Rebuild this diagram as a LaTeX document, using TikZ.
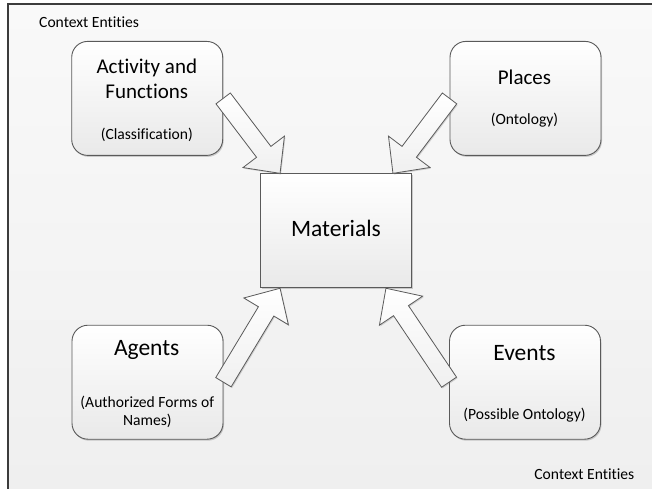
\documentclass[tikz,border=0pt]{standalone}
\usepackage{fontspec}
\setmainfont[Ligatures=NoCommon]{Carlito}
\usetikzlibrary{calc,shadows}

\definecolor{edgegray}{HTML}{5A5A5A}
\definecolor{framegray}{HTML}{3C3C3C}
\definecolor{boxtop}{HTML}{FFFFFF}
\definecolor{boxbot}{HTML}{E9E9E9}
\definecolor{bgtop}{HTML}{F9F9F9}
\definecolor{bgbot}{HTML}{EFEFEF}

\newcommand\bigtext{\fontsize{23.5}{28}\selectfont}
\newcommand\midtext{\fontsize{21}{25}\selectfont}
\newcommand\smalltext{\fontsize{15.6}{18.4}\selectfont}

% block arrow from tail coordinate #2 to tip coordinate #3
\newcommand\blockarrow[3]{%
  \coordinate (#1-base) at ($(#3)!27pt!(#2)$);
  \draw[blockarrow]
    ($(#2)!9pt!90:(#3)$) -- ($(#1-base)!9pt!90:(#3)$) --
    ($(#1-base)!26pt!90:(#3)$) -- (#3) --
    ($(#1-base)!26pt!-90:(#3)$) -- ($(#1-base)!9pt!-90:(#3)$) --
    ($(#2)!9pt!-90:(#3)$) -- cycle;
}

\tikzset{
  entity/.style={draw=edgegray, line width=0.9pt, rounded corners=16pt,
    minimum width=151pt, minimum height=114pt, inner sep=0pt,
    top color=boxtop, bottom color=boxbot,
    drop shadow={shadow xshift=1pt, shadow yshift=-1.5pt, opacity=0.3, fill=black!60}},
  centerbox/.style={draw=edgegray, line width=0.9pt,
    minimum width=151pt, minimum height=114pt, inner sep=0pt,
    top color=boxtop, bottom color=boxbot,
    drop shadow={shadow xshift=1pt, shadow yshift=-1.5pt, opacity=0.3, fill=black!60}},
  blockarrow/.style={draw=edgegray, line width=0.8pt, line join=miter,
    top color=white, bottom color=black!6,
    drop shadow={shadow xshift=1pt, shadow yshift=-1.2pt, opacity=0.25, fill=black!60}},
  txt/.style={inner sep=0pt, anchor=base, text=black},
}

\begin{document}
\begin{tikzpicture}[x=1pt, y=-1pt]
  \useasboundingbox (0,0) rectangle (652,489);
  \fill[white] (0,0) rectangle (652,489);

  % context area
  \shade[top color=bgtop, bottom color=bgbot] (8,4) rectangle (652,489);
  \draw[framegray, line width=1.3pt] (8,489) -- (8,4) -- (652,4);

  \node[txt, anchor=base west] (ctx-top) at (39,27.3) {\smalltext Context Entities};
  \node[txt, anchor=base east] (ctx-bot) at (634.5,479.3) {\smalltext Context Entities};

  % entity boxes
  \node[entity]    (act)    at (147.2,98.4)  {};
  \node[entity]    (places) at (525.5,98.4)  {};
  \node[entity]    (agents) at (147.5,382.2) {};
  \node[entity]    (events) at (525,382.2)   {};
  \node[centerbox] (mat)    at (336,230.8)   {};

  % labels
  \node[txt] (act-l1) at (146.8,74)  {\midtext Activity and};
  \node[txt] (act-l2) at (146.8,99)  {\midtext Functions};
  \node[txt] (act-l3) at (146.8,139.5) {\smalltext (Classification)};

  \node[txt] (pl-l1) at (524.5,85)  {\midtext Places};
  \node[txt] (pl-l2) at (524.5,125) {\smalltext (Ontology)};

  \node[txt] (mat-l1) at (336,236.7) {\bigtext Materials};

  \node[txt] (ag-l1) at (146.7,355)   {\bigtext Agents};
  \node[txt] (ag-l2) at (147.3,407.3) {\smalltext (Authorized Forms of};
  \node[txt] (ag-l3) at (147.3,425.7) {\smalltext Names)};

  \node[txt] (ev-l1) at (524.5,360)   {\bigtext Events};
  \node[txt] (ev-l2) at (524.5,419)   {\smalltext (Possible Ontology)};

  % arrow ends
  \coordinate (t-act)    at (act.east);
  \coordinate (t-places) at (places.west);
  \coordinate (t-agents) at (agents.east);
  \coordinate (t-events) at (events.west);
  \coordinate (h-act)    at ($(mat.north west)+(20,0)$);
  \coordinate (h-places) at ($(mat.north east)+(-19,0)$);
  \coordinate (h-agents) at ($(mat.south west)+(20,0)$);
  \coordinate (h-events) at ($(mat.south east)+(-26,0)$);

  % block arrows into the centre
  \blockarrow{a1}{t-act}{h-act}
  \blockarrow{a2}{t-places}{h-places}
  \blockarrow{a3}{t-agents}{h-agents}
  \blockarrow{a4}{t-events}{h-events}
\end{tikzpicture}
\end{document}
